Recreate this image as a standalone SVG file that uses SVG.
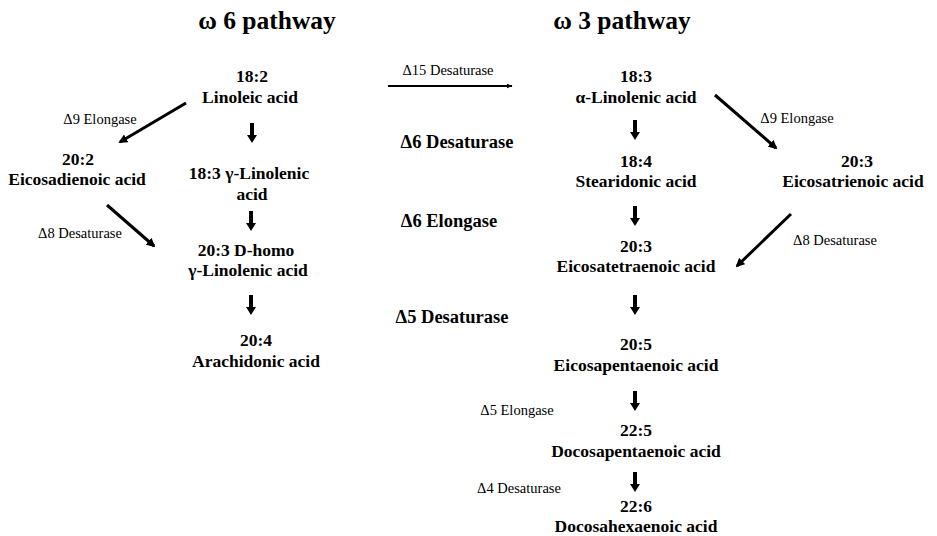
<svg xmlns="http://www.w3.org/2000/svg" width="937" height="536" viewBox="0 0 937 536">
<defs>
<style>
text{font-family:"Liberation Serif","Times New Roman",serif;fill:#000;text-anchor:middle}
.t{font-size:25.5px;font-weight:bold}
.n{font-size:17.5px;font-weight:bold}
.e{font-size:18.5px;font-weight:bold}
.s{font-size:14.5px}
.ln{stroke:#000;stroke-width:3;fill:none}
.thin{stroke:#000;stroke-width:2;fill:none}
</style>
<marker id="ah" viewBox="0 0 10 10" refX="8" refY="5" markerWidth="3" markerHeight="3" orient="auto"><path d="M0,0 L10,5 L0,10 Z" fill="#000"/></marker>
<marker id="ah2" viewBox="0 0 10 10" refX="9" refY="5" markerWidth="3" markerHeight="3" orient="auto"><path d="M0,1 L10,5 L0,9 Z" fill="#000"/></marker>
<path id="da" d="M-2,0 H2 V12 H5 L0,20 L-5,12 H-2 Z" fill="#000"/>
</defs>
<rect width="937" height="536" fill="#fff"/>
<g id="titles">
<text class="t" x="267" y="29">ω 6 pathway</text>
<text class="t" x="622" y="29">ω 3 pathway</text>
</g>
<g id="n-182"><text class="n" x="252" y="82">18:2</text><text class="n" x="250" y="103">Linoleic acid</text></g>
<g id="n-202"><text class="n" x="78" y="165">20:2</text><text class="n" x="77" y="185">Eicosadienoic acid</text></g>
<g id="n-183g"><text class="n" x="249" y="179">18:3 γ-Linolenic</text><text class="n" x="252" y="200">acid</text></g>
<g id="n-203d"><text class="n" x="246" y="256">20:3 D-homo</text><text class="n" x="248" y="276">γ-Linolenic acid</text></g>
<g id="n-204"><text class="n" x="256" y="346">20:4</text><text class="n" x="256" y="367">Arachidonic acid</text></g>
<g id="n-183a"><text class="n" x="636" y="82">18:3</text><text class="n" x="636" y="103">α-Linolenic acid</text></g>
<g id="n-184"><text class="n" x="636" y="167">18:4</text><text class="n" x="636" y="187">Stearidonic acid</text></g>
<g id="n-203e"><text class="n" x="857" y="167">20:3</text><text class="n" x="853" y="187">Eicosatrienoic acid</text></g>
<g id="n-203t"><text class="n" x="636" y="252">20:3</text><text class="n" x="636" y="272">Eicosatetraenoic acid</text></g>
<g id="n-205"><text class="n" x="636" y="350">20:5</text><text class="n" x="636" y="371">Eicosapentaenoic acid</text></g>
<g id="n-225"><text class="n" x="636" y="436">22:5</text><text class="n" x="636" y="457">Docosapentaenoic acid</text></g>
<g id="n-226"><text class="n" x="636" y="512">22:6</text><text class="n" x="636" y="532">Docosahexaenoic acid</text></g>
<g id="enzymes">
<text class="e" x="457" y="148">Δ6 Desaturase</text>
<text class="e" x="449" y="227">Δ6 Elongase</text>
<text class="e" x="452" y="323">Δ5 Desaturase</text>
</g>
<g id="labels">
<text class="s" x="100" y="124">Δ9 Elongase</text>
<text class="s" x="80" y="238">Δ8 Desaturase</text>
<text class="s" x="448" y="75">Δ15 Desaturase</text>
<text class="s" x="797" y="123">Δ9 Elongase</text>
<text class="s" x="835" y="245">Δ8 Desaturase</text>
<text class="s" x="517" y="415">Δ5 Elongase</text>
<text class="s" x="519" y="493">Δ4 Desaturase</text>
</g>
<g id="connectors">
<line class="ln" x1="186" y1="103" x2="120" y2="142" marker-end="url(#ah)"/>
<line class="ln" x1="107" y1="205" x2="154" y2="246" marker-end="url(#ah)"/>
<line class="thin" x1="388" y1="86" x2="512" y2="86" marker-end="url(#ah2)"/>
<line class="ln" x1="715" y1="95" x2="776" y2="148" marker-end="url(#ah)"/>
<line class="ln" x1="791" y1="214" x2="737" y2="266" marker-end="url(#ah)"/>
<use href="#da" x="252" y="123"/>
<use href="#da" x="251" y="211"/>
<use href="#da" x="251" y="295"/>
<use href="#da" x="635" y="120"/>
<use href="#da" x="635" y="206"/>
<use href="#da" x="635" y="295"/>
<use href="#da" x="635" y="391"/>
<use href="#da" x="635" y="472"/>
</g>
</svg>
